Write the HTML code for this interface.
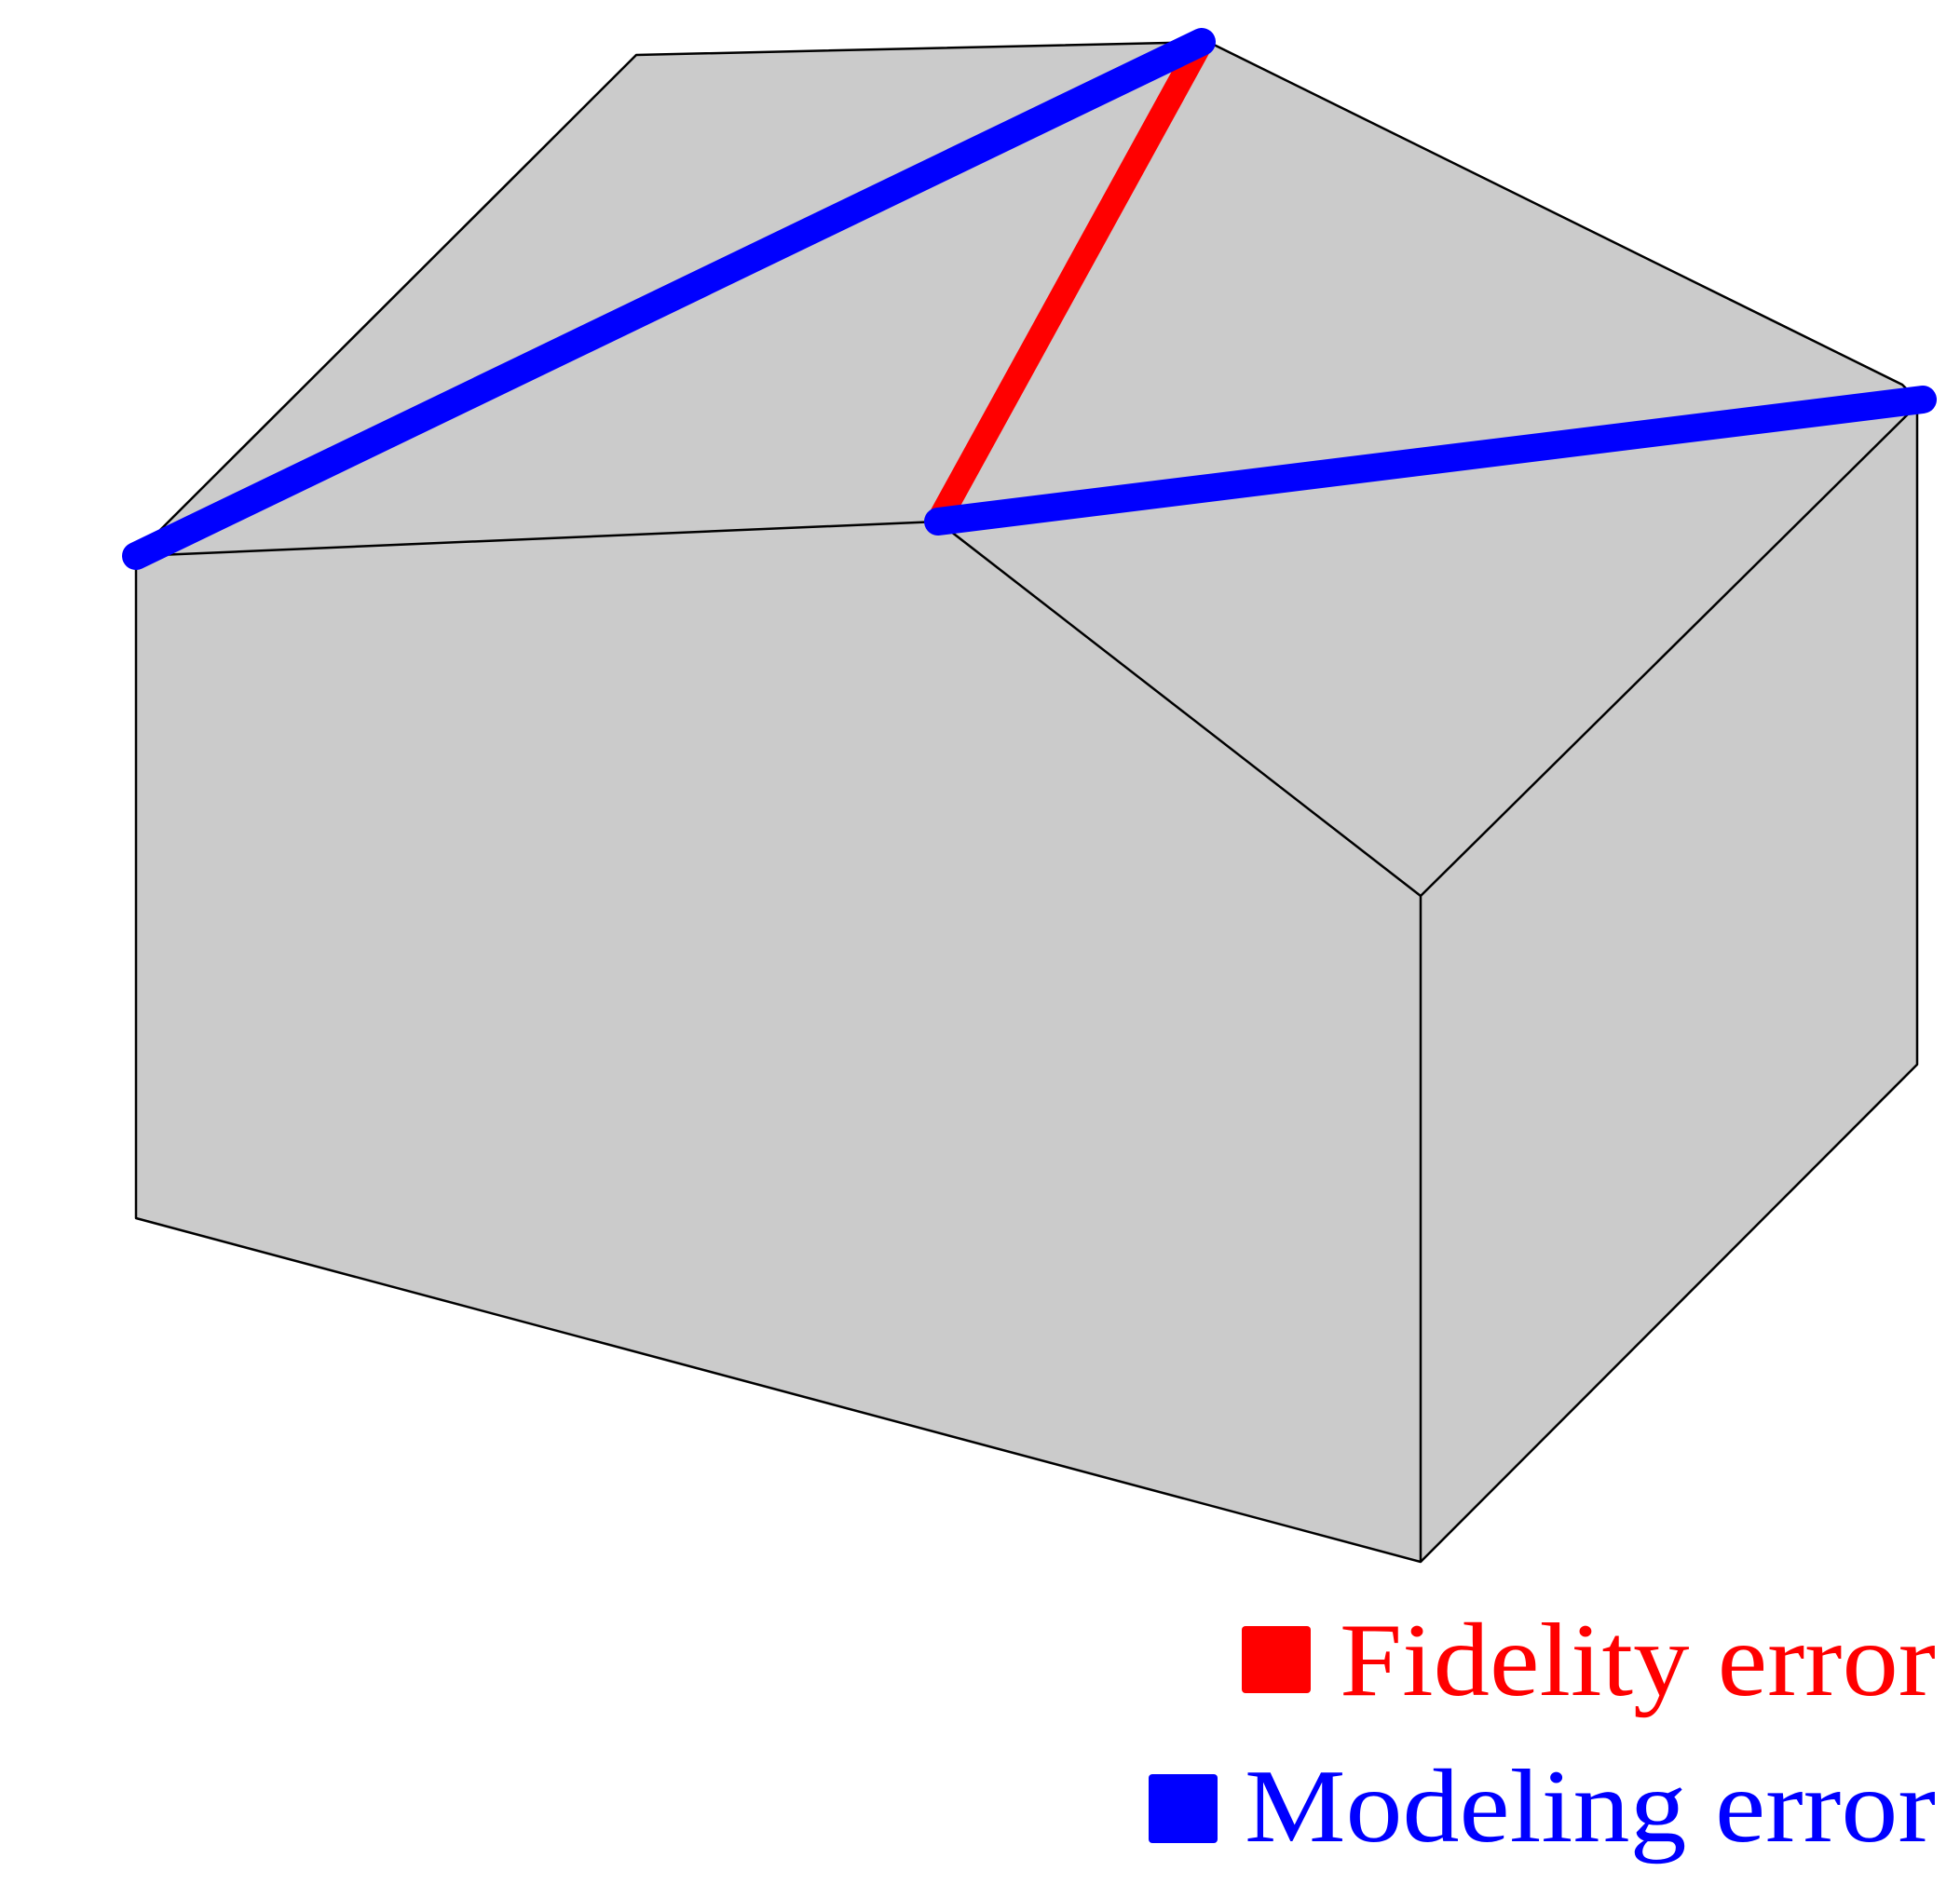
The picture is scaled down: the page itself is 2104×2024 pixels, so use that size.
<!DOCTYPE html>
<html><head><meta charset="utf-8"><style>
html,body{margin:0;padding:0;background:#fff;}
svg{display:block;}
</style></head><body>
<svg id="fig" width="2104" height="2024" viewBox="0 0 2104 2024" xmlns="http://www.w3.org/2000/svg">
<polygon points="146,595 683,59 1297,45 2042,413 2058,429 2058,1143 1525,1677 146,1308" fill="#cbcbcb" stroke="#000" stroke-width="2.5" stroke-linejoin="round"/>
<g id="edges" stroke="#000" stroke-width="2.5" fill="none"></g>
<g id="errors" stroke-linecap="round" fill="none"></g>
<g>
<rect x="1333" y="1746" width="74" height="72" rx="4" fill="#ff0000"/>
<text x="2078" y="1820" text-anchor="end" textLength="640" lengthAdjust="spacingAndGlyphs" font-family="'Liberation Serif', serif" font-size="112" fill="#ff0000">Fidelity error</text>
<rect x="1233" y="1905" width="74" height="74" rx="4" fill="#0000ff"/>
<text x="2078" y="1977" text-anchor="end" textLength="742" lengthAdjust="spacingAndGlyphs" font-family="'Liberation Serif', serif" font-size="112" fill="#0000ff">Modeling error</text>
</g>
</svg>
<script>
const vertexNames = ["leftRoof","backLeft","peak","rightRoof","midRoof","frontCorner","frontBottom","leftBottom","rightBottom"];
const vertexX = [146, 683, 1290, 2064, 1007, 1525, 1525, 146, 2058];
const vertexY = [597, 59, 45, 429, 560, 962, 1677, 1308, 1143];
const edgeList = [["leftRoof","midRoof"],["midRoof","frontCorner"],["frontCorner","rightRoof"],["frontCorner","frontBottom"]];
const fidelityEdges = [["midRoof","peak"]];
const modelingEdges = [["leftRoof","peak"],["midRoof","rightRoof"]];
const NS = "http://www.w3.org/2000/svg";
function px(n){return vertexX[vertexNames.indexOf(n)];}
function py(n){return vertexY[vertexNames.indexOf(n)];}
function mk(parent,a,b){
  const l=document.createElementNS(NS,"line");
  l.setAttribute("x1",px(a));l.setAttribute("y1",py(a));
  l.setAttribute("x2",px(b));l.setAttribute("y2",py(b));
  parent.appendChild(l);return l;
}
const eg=document.getElementById("edges");
edgeList.forEach(e=>{const l=mk(eg,e[0],e[1]);


});
const er=document.getElementById("errors");
fidelityEdges.forEach(e=>{const l=mk(er,e[0],e[1]);l.setAttribute("stroke","#ff0000");l.setAttribute("stroke-width","26");


});
modelingEdges.forEach(e=>{const l=mk(er,e[0],e[1]);l.setAttribute("stroke","#0000ff");l.setAttribute("stroke-width","30");


});
</script>
</body></html>
